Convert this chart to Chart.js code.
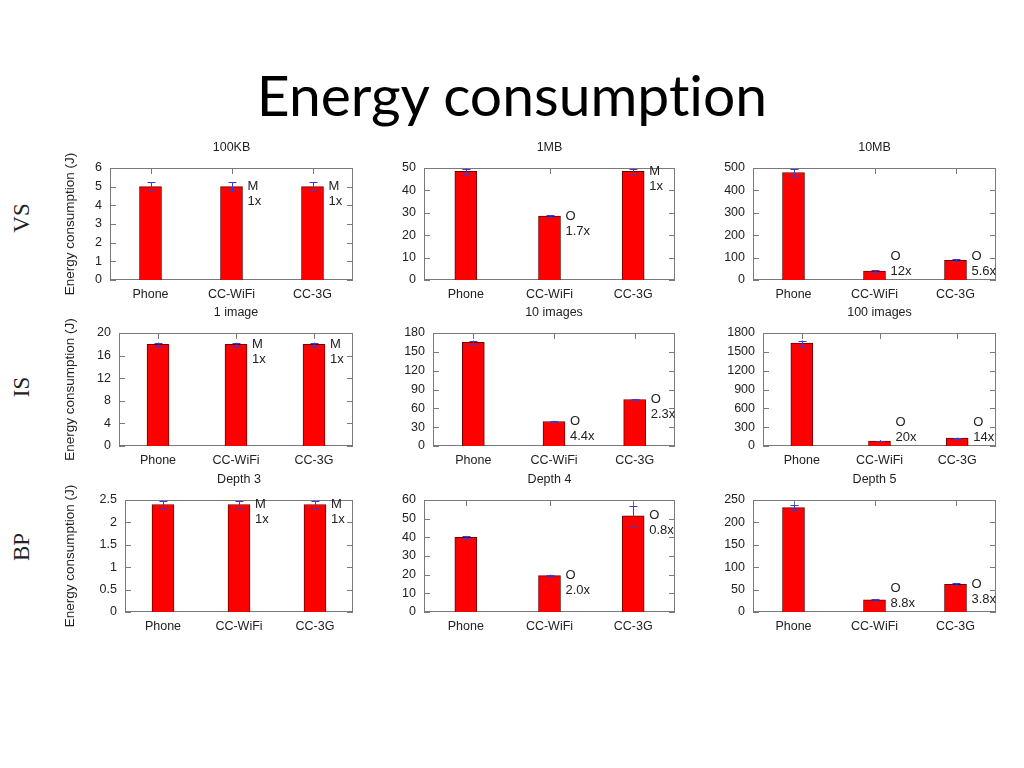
<!DOCTYPE html>
<html>
<head>
<meta charset="utf-8">
<title>Energy consumption</title>
<script src="https://cdn.jsdelivr.net/npm/chart.js@4.4.0/dist/chart.umd.min.js"></script>
<style>
  body { margin: 0; width: 1024px; height: 768px; background: #fff; position: relative; overflow: hidden; }
  #mainTitle { position: absolute; left: 0; top: 66px; width: 1024px; text-align: center;
               font-family: Lato, "Open Sans", sans-serif; font-size: 57px; line-height: 57px; color: #000;
               font-variant-ligatures: none; font-feature-settings: "liga" 0; }
  .rowLabel { position: absolute; width: 60px; height: 26px; line-height: 26px; text-align: center;
              font-family: "Liberation Serif", "DejaVu Serif", serif; font-size: 23px; color: #222;
              transform: rotate(-90deg); }
  canvas { position: absolute; }
</style>
</head>
<body>
<div id="mainTitle">Energy consumption</div>
<div class="rowLabel" style="left:-8px; top:205px;">VS</div>
<div class="rowLabel" style="left:-8px; top:374px;">IS</div>
<div class="rowLabel" style="left:-8px; top:534px;">BP</div>

<script>
// ---- data ----
const categories = ['Phone', 'CC-WiFi', 'CC-3G'];
const panelTitles = ['100KB', '1MB', '10MB', '1 image', '10 images', '100 images', 'Depth 3', 'Depth 4', 'Depth 5'];

const vs100KB = [5.0, 5.0, 5.0];
const vs1MB = [48.5, 28.5, 48.5];
const vs10MB = [480, 40, 88];
const is1Image = [18, 18, 18];
const is10Images = [165, 39, 74];
const is100Images = [1640, 80, 125];
const bpDepth3 = [2.4, 2.4, 2.4];
const bpDepth4 = [40, 19.5, 51.5];
const bpDepth5 = [233, 27, 62];

// error bar half-widths
const vs100KBErr = [0.25, 0.25, 0.25];
const vs1MBErr = [1.2, 0.5, 1.2];
const vs10MBErr = [15, 4, 4];
const is1ImageErr = [0.3, 0.3, 0.3];
const is10ImagesErr = [3, 1, 1];
const is100ImagesErr = [40, 5, 8];
const bpDepth3Err = [0.07, 0.07, 0.07];
const bpDepth4Err = [0.8, 0.5, 5.5];
const bpDepth5Err = [6, 2, 2];

// labels next to the bars
const vs100KBNotes = [null, ['M', '1x'], ['M', '1x']];
const vs1MBNotes = [null, ['O', '1.7x'], ['M', '1x']];
const vs10MBNotes = [null, ['O', '12x'], ['O', '5.6x']];
const is1ImageNotes = [null, ['M', '1x'], ['M', '1x']];
const is10ImagesNotes = [null, ['O', '4.4x'], ['O', '2.3x']];
const is100ImagesNotes = [null, ['O', '20x'], ['O', '14x']];
const bpDepth3Notes = [null, ['M', '1x'], ['M', '1x']];
const bpDepth4Notes = [null, ['O', '2.0x'], ['O', '0.8x']];
const bpDepth5Notes = [null, ['O', '8.8x'], ['O', '3.8x']];

// y axis ranges / tick steps
const yMaxes = [6, 50, 500, 20, 180, 1800, 2.5, 60, 250];
const yStepSizes = [1, 10, 100, 4, 30, 300, 0.5, 10, 50];

const panelValues = [vs100KB, vs1MB, vs10MB, is1Image, is10Images, is100Images, bpDepth3, bpDepth4, bpDepth5];
const panelErrors = [vs100KBErr, vs1MBErr, vs10MBErr, is1ImageErr, is10ImagesErr, is100ImagesErr, bpDepth3Err, bpDepth4Err, bpDepth5Err];
const panelNotes = [vs100KBNotes, vs1MBNotes, vs10MBNotes, is1ImageNotes, is10ImagesNotes, is100ImagesNotes, bpDepth3Notes, bpDepth4Notes, bpDepth5Notes];

// ---- layout: plot boxes [left, top, right, bottom] on the page ----
const plotBoxes = [
  [110, 168, 353, 280], [424, 168, 675, 280], [753, 168, 996, 280],
  [119, 333, 353, 446], [433, 333, 675, 446], [763, 333, 996, 446],
  [125, 500, 353, 612], [424, 500, 675, 612], [753, 500, 996, 612]
];
const columnLefts = [58, 385, 712];
const PAD_TOP = 30, PAD_RIGHT = 30, X_AXIS_H = 30;

const FONT = '"Liberation Sans", Arial, sans-serif';
const TEXT = '#222';
const FRAME = '#7a7a7a';

function makePanelPlugin(idx) {
  return {
    id: 'gnuplotPanel' + idx,
    beforeDatasetsDraw(chart) {
      const { ctx, chartArea: a, scales: { x, y } } = chart;
      ctx.save();
      ctx.strokeStyle = FRAME;
      ctx.lineWidth = 1;
      ctx.strokeRect(a.left + 0.5, a.top + 0.5, a.right - a.left - 1, a.bottom - a.top - 1);
      ctx.beginPath();
      // inward tick marks, mirrored like gnuplot
      y.ticks.forEach(t => {
        const py = Math.round(y.getPixelForValue(t.value)) + 0.5;
        ctx.moveTo(a.left, py); ctx.lineTo(a.left + 6, py);
        ctx.moveTo(a.right - 6, py); ctx.lineTo(a.right, py);
      });
      categories.forEach((c, i) => {
        const px = Math.round(x.getPixelForValue(i)) + 0.5;
        ctx.moveTo(px, a.top); ctx.lineTo(px, a.top + 6);
        ctx.moveTo(px, a.bottom - 6); ctx.lineTo(px, a.bottom);
      });
      ctx.stroke();
      ctx.restore();
    },
    afterDatasetsDraw(chart) {
      const { ctx, chartArea: a, scales: { y } } = chart;
      const bars = chart.getDatasetMeta(0).data;
      const vals = panelValues[idx], errs = panelErrors[idx], notes = panelNotes[idx];
      ctx.save();
      // error bars
      ctx.strokeStyle = '#3b3bcc';
      ctx.lineWidth = 1;
      ctx.beginPath();
      bars.forEach((bar, i) => {
        const px = Math.round(bar.x) + 0.5;
        const yHi = y.getPixelForValue(vals[i] + errs[i]);
        const yLo = y.getPixelForValue(vals[i] - errs[i]);
        ctx.moveTo(px, yHi); ctx.lineTo(px, yLo);
        ctx.moveTo(px - 4, Math.round(yHi) + 0.5); ctx.lineTo(px + 4, Math.round(yHi) + 0.5);
        ctx.moveTo(px - 4, Math.round(yLo) + 0.5); ctx.lineTo(px + 4, Math.round(yLo) + 0.5);
      });
      ctx.stroke();
      // annotations
      ctx.fillStyle = TEXT;
      ctx.font = '13px ' + FONT;
      ctx.textAlign = 'left';
      ctx.textBaseline = 'middle';
      bars.forEach((bar, i) => {
        const note = notes[i];
        if (!note) return;
        const tx = bar.x + bar.width / 2 + 5;
        const ty = Math.min(bar.y, a.bottom - 24);
        ctx.fillText(note[0], tx, ty);
        ctx.fillText(note[1], tx, ty + 15);
      });
      // panel title
      ctx.font = '12.5px ' + FONT;
      ctx.textAlign = 'center';
      ctx.fillText(panelTitles[idx], (a.left + a.right) / 2, a.top - 20);
      ctx.restore();
    }
  };
}

panelValues.forEach((vals, idx) => {
  const col = idx % 3;
  const [pl, pt, pr, pb] = plotBoxes[idx];
  const left = columnLefts[col];
  const yW = pl - left;
  const canvas = document.createElement('canvas');
  canvas.width = pr - left + PAD_RIGHT;
  canvas.height = PAD_TOP + (pb - pt) + X_AXIS_H;
  canvas.style.left = left + 'px';
  canvas.style.top = (pt - PAD_TOP) + 'px';
  document.body.appendChild(canvas);

  new Chart(canvas, {
    type: 'bar',
    data: {
      labels: categories,
      datasets: [{
        data: vals,
        backgroundColor: '#ff0000',
        borderColor: '#6e0000',
        borderWidth: 1,
        barThickness: 22
      }]
    },
    options: {
      responsive: false,
      animation: false,
      events: [],
      layout: { padding: { top: PAD_TOP, right: PAD_RIGHT, left: 0, bottom: 0 }, autoPadding: false },
      plugins: { legend: { display: false }, tooltip: { enabled: false } },
      scales: {
        x: {
          grid: { display: false, drawTicks: false },
          border: { display: false },
          ticks: { color: TEXT, font: { family: FONT, size: 12.5 }, padding: 7, maxRotation: 0, autoSkip: false },
          afterFit: s => { s.height = X_AXIS_H; }
        },
        y: {
          min: 0,
          max: yMaxes[idx],
          grid: { display: false, drawTicks: false },
          border: { display: false },
          ticks: {
            stepSize: yStepSizes[idx],
            color: TEXT,
            font: { family: FONT, size: 12.5 },
            padding: 8,
            callback: v => String(v)
          },
          title: {
            display: col === 0,
            text: 'Energy consumption (J)',
            color: TEXT,
            font: { family: FONT, size: 13.5 },
            padding: { top: 4, bottom: 0 }
          },
          afterFit: s => { s.width = yW; }
        }
      }
    },
    plugins: [makePanelPlugin(idx)]
  });
});
</script>
</body>
</html>
